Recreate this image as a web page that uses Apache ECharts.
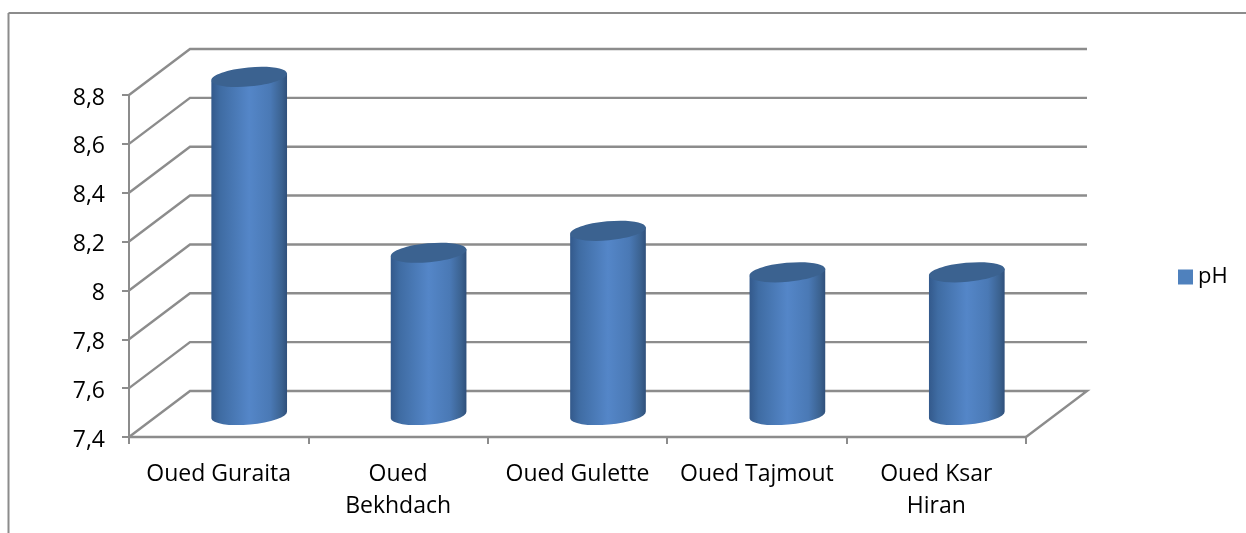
<!DOCTYPE html>
<html>
<head>
<meta charset="utf-8">
<style>html,body{margin:0;padding:0;background:#fff}#chart{width:1246px;height:533px}</style>
<script src="https://cdn.jsdelivr.net/npm/echarts@6/dist/echarts.min.js"></script>
</head>
<body>
<div id="chart"></div>
<script>
// pH measured at each wadi station
const categories = ['Oued Guraita', 'Oued\nBekhdach', 'Oued Gulette', 'Oued Tajmout', 'Oued Ksar\nHiran'];
const phValues = [8.78, 8.06, 8.15, 7.98, 7.98];
const yTicks = [7.4, 7.6, 7.8, 8.0, 8.2, 8.4, 8.6, 8.8];
const seriesName = 'pH';

// Oblique projection of the chart box: how far the back wall sits from the front plane
const DEPTH_X = 61, DEPTH_Y = -46;
const RADIUS_X = 38, RADIUS_Y = 9.5, TILT_DEG = -5.3;
const GRID_COLOR = '#8c8c8c';
const FONT = '"Open Sans", Lato, sans-serif';

const chart = echarts.init(document.getElementById('chart'), null, { renderer: 'canvas' });

// Back-wall gridlines, with their slanted run along the side wall
function renderWall(params, api) {
  const cs = params.coordSys;
  const p = api.coord([0, api.value(0)]);
  const y = p[1];
  const pts = [[cs.x, y], [cs.x + DEPTH_X, y + DEPTH_Y], [cs.x + cs.width + DEPTH_X, y + DEPTH_Y]];
  if (params.dataIndex === 0) pts.push([cs.x + cs.width, y]);
  return {
    type: 'polyline',
    shape: { points: pts },
    style: { stroke: GRID_COLOR, lineWidth: 2.4, fill: null },
    silent: true
  };
}

// A tilted elliptical cylinder standing half way into the box depth
function renderCylinder(params, api) {
  const base = api.coord([api.value(0), yTicks[0]]);
  const top = api.coord([api.value(0), api.value(1)]);
  const cx = base[0] + DEPTH_X / 2;
  const yBase = base[1] + DEPTH_Y / 2 + 1;
  const yTop = top[1] + DEPTH_Y / 2;
  const rad = TILT_DEG * Math.PI / 180;
  const dx = RADIUS_X * Math.cos(rad), dy = RADIUS_X * Math.sin(rad);
  const body = [
    'M', cx - dx, yTop - dy,
    'L', cx - dx, yBase - dy,
    'A', RADIUS_X, RADIUS_Y, TILT_DEG, 0, 0, cx + dx, yBase + dy,
    'L', cx + dx, yTop + dy,
    'Z'
  ].join(' ');
  return {
    type: 'group',
    children: [
      {
        type: 'path',
        shape: { pathData: body },
        style: {
          fill: new echarts.graphic.LinearGradient(0, 0, 1, 0, [
            { offset: 0, color: '#33598b' },
            { offset: 0.12, color: '#3f6ca3' },
            { offset: 0.5, color: '#5486c8' },
            { offset: 0.78, color: '#4a79b5' },
            { offset: 0.93, color: '#3b6290' },
            { offset: 1, color: '#2f4f7a' }
          ])
        }
      },
      {
        type: 'ellipse',
        shape: { cx: 0, cy: 0, rx: RADIUS_X, ry: RADIUS_Y },
        x: cx, y: yTop, rotation: -rad,
        style: { fill: '#3b6290' }
      }
    ]
  };
}

chart.setOption({
  animation: false,
  backgroundColor: '#ffffff',
  grid: { left: 129, top: 95, width: 897, height: 342, containLabel: false },
  legend: {
    left: 1173, top: 261,
    itemWidth: 15, itemHeight: 15, itemGap: 0, icon: 'rect',
    data: [{ name: seriesName, itemStyle: { color: '#4f81bd' } }],
    textStyle: { fontFamily: FONT, fontSize: 22, color: '#000', padding: [2, 0, 0, 0] }
  },
  xAxis: {
    type: 'category',
    data: categories,
    boundaryGap: true,
    axisLine: { show: true, lineStyle: { color: GRID_COLOR, width: 2.4 } },
    axisTick: { show: true, alignWithLabel: false, length: 7, lineStyle: { color: GRID_COLOR, width: 2 } },
    axisLabel: { interval: 0, margin: 21, fontFamily: FONT, fontSize: 23, lineHeight: 32, color: '#000' },
    splitLine: { show: false }
  },
  yAxis: {
    type: 'value',
    min: yTicks[0],
    max: yTicks[yTicks.length - 1],
    interval: 0.2,
    axisLine: { show: true, lineStyle: { color: GRID_COLOR, width: 2 } },
    axisTick: { show: true, length: 7, lineStyle: { color: GRID_COLOR, width: 2 } },
    axisLabel: {
      margin: 24,
      fontFamily: FONT, fontSize: 23, color: '#000',
      formatter: v => '{tick|' + String(Math.round(v * 10) / 10).replace('.', ',') + '}',
      rich: {
        tick: { fontFamily: FONT, fontSize: 23, color: '#000', padding: [6, 0, 0, 0] }
      }
    },
    splitLine: { show: false }
  },
  graphic: [
    { type: 'line', shape: { x1: 8.5, y1: 13, x2: 1246, y2: 13 }, style: { stroke: '#8c8c8c', lineWidth: 2 } },
    { type: 'line', shape: { x1: 8.5, y1: 13, x2: 8.5, y2: 533 }, style: { stroke: '#8c8c8c', lineWidth: 2 } }
  ],
  series: [
    {
      type: 'custom',
      name: 'wall',
      coordinateSystem: 'cartesian2d',
      renderItem: renderWall,
      encode: { y: 0 },
      data: yTicks.map(v => [v]),
      silent: true,
      z: 1,
      clip: false
    },
    {
      type: 'custom',
      name: seriesName,
      coordinateSystem: 'cartesian2d',
      renderItem: renderCylinder,
      encode: { x: 0, y: 1 },
      data: categories.map((c, i) => [i, phValues[i]]),
      itemStyle: { color: '#4f81bd' },
      z: 3,
      clip: false
    }
  ]
});
</script>
</body>
</html>
